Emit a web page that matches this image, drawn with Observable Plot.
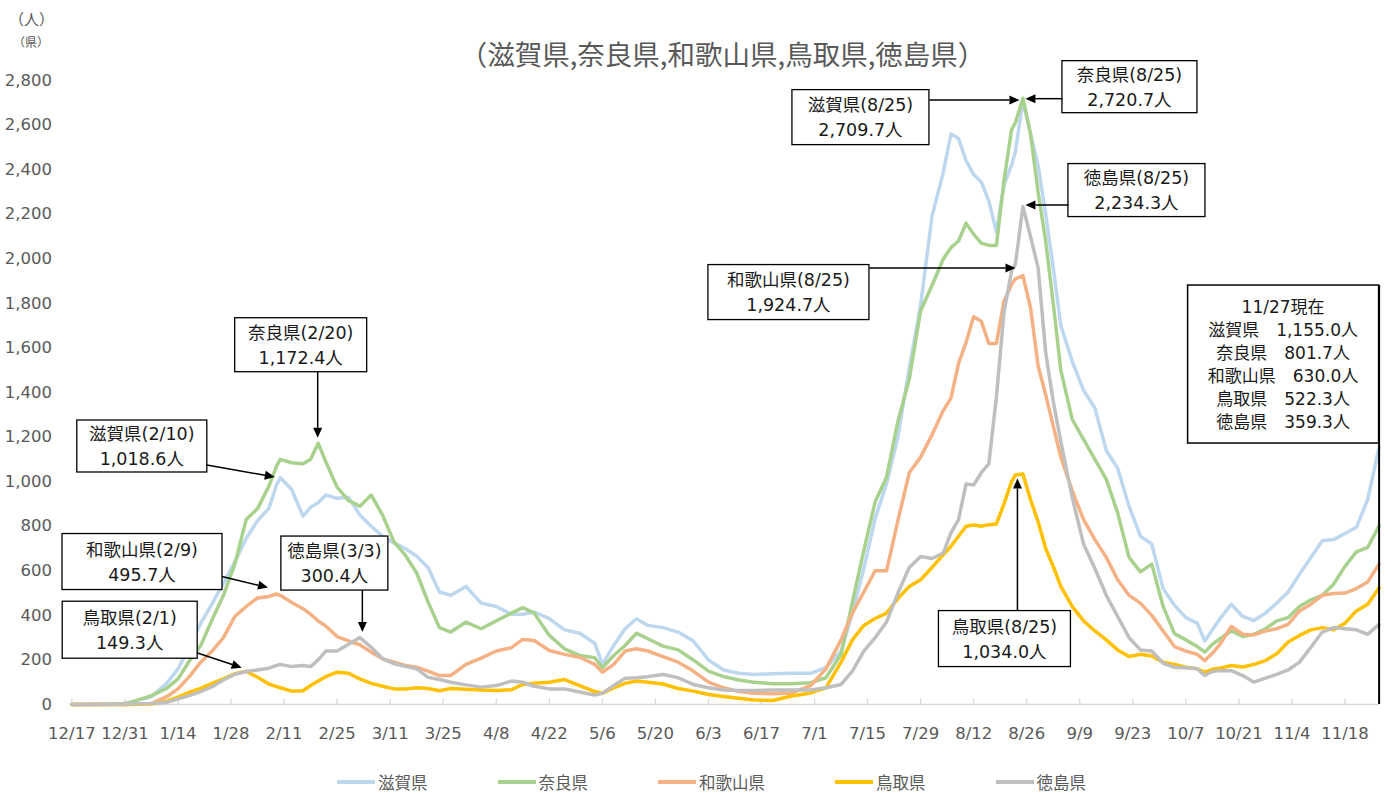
<!DOCTYPE html>
<html><head><meta charset="utf-8">
<script src="https://cdn.jsdelivr.net/npm/d3@7"></script>
<script src="https://cdn.jsdelivr.net/npm/@observablehq/plot@0.6"></script>
<style>
body{margin:0;background:#fff;}
#wrap{position:relative;width:1395px;height:794px;font-family:"DejaVu Sans","Noto Sans CJK JP",sans-serif;color:#595959;overflow:hidden;}
#chart{position:absolute;left:0;top:0;}
.abs{position:absolute;white-space:nowrap;}
#title{left:0;width:1445px;top:33px;text-align:center;font-size:27.5px;font-family:"Noto Sans CJK JP",sans-serif;}
#u1{left:9px;top:8px;font-size:15px;font-family:"Noto Sans CJK JP",sans-serif;}
#u2{left:13px;top:33px;font-size:12px;font-family:"Noto Sans CJK JP",sans-serif;}
#legend{left:337px;top:770px;display:flex;gap:70px;align-items:center;font-size:16.5px;font-family:"Noto Sans CJK JP",sans-serif;}
.li{display:flex;align-items:center;gap:3px;}
.sw{width:38px;height:4px;}
</style></head><body>
<div id="wrap">
  <div id="chart"></div>
  <div class="abs" id="u1">（人）</div>
  <div class="abs" id="u2">（県）</div>
  <div class="abs" id="title">（滋賀県,奈良県,和歌山県,鳥取県,徳島県）</div>
  <div class="abs" id="legend"></div>
</div>
<script>
// ---- data ----
const dates = ["2020-12-17","2020-12-24","2020-12-31","2021-01-07","2021-01-11","2021-01-14","2021-01-17","2021-01-20","2021-01-23","2021-01-26","2021-01-29","2021-02-01","2021-02-04","2021-02-07","2021-02-09","2021-02-10","2021-02-13","2021-02-16","2021-02-18","2021-02-20","2021-02-22","2021-02-25","2021-02-28","2021-03-03","2021-03-06","2021-03-09","2021-03-12","2021-03-15","2021-03-18","2021-03-21","2021-03-24","2021-03-27","2021-03-31","2021-04-04","2021-04-08","2021-04-12","2021-04-15","2021-04-18","2021-04-22","2021-04-26","2021-04-30","2021-05-04","2021-05-06","2021-05-09","2021-05-12","2021-05-15","2021-05-18","2021-05-22","2021-05-26","2021-05-30","2021-06-03","2021-06-07","2021-06-11","2021-06-15","2021-06-20","2021-06-25","2021-06-30","2021-07-04","2021-07-08","2021-07-11","2021-07-14","2021-07-17","2021-07-20","2021-07-23","2021-07-26","2021-07-29","2021-08-01","2021-08-04","2021-08-06","2021-08-08","2021-08-10","2021-08-12","2021-08-14","2021-08-16","2021-08-18","2021-08-20","2021-08-22","2021-08-23","2021-08-25","2021-08-27","2021-08-29","2021-08-31","2021-09-02","2021-09-04","2021-09-07","2021-09-10","2021-09-13","2021-09-16","2021-09-19","2021-09-22","2021-09-25","2021-09-28","2021-10-01","2021-10-04","2021-10-07","2021-10-10","2021-10-12","2021-10-14","2021-10-16","2021-10-19","2021-10-22","2021-10-25","2021-10-28","2021-10-31","2021-11-03","2021-11-06","2021-11-09","2021-11-12","2021-11-15","2021-11-18","2021-11-21","2021-11-24","2021-11-27"];

const shiga = [0,2,5,35,95,160,257,365,452,545,640,745,825,880,985,1018.6,965,845,885,905,940,925,930,850,800,755,725,700,665,615,505,490,530,455,440,405,405,415,385,335,320,275,180,265,340,385,355,345,325,285,200,155,140,135,138,140,140,165,240,410,610,835,990,1200,1510,1794,2190,2390,2560,2540,2440,2378,2345,2260,2120,2330,2420,2480,2709.7,2560,2420,2200,1960,1700,1540,1410,1330,1140,1060,890,755,720,520,445,390,365,285,335,385,450,395,377,410,455,505,585,660,735,740,767,795,920,1155.0];

const nara = [0,0,2,40,72,115,195,265,380,490,630,830,879,980,1070,1100,1085,1080,1100,1172.4,1090,975,915,890,940,850,730,670,590,460,345,325,370,340,375,410,435,410,310,250,220,210,165,220,265,320,295,262,245,200,150,125,110,100,93,93,98,120,225,460,690,910,1020,1270,1460,1767,1880,2000,2050,2080,2160,2110,2070,2060,2060,2350,2580,2610,2720.7,2560,2300,2080,1800,1500,1280,1190,1100,1010,860,660,595,630,440,318,290,260,235,270,295,330,305,315,340,375,390,440,470,490,540,620,685,705,801.7];

const wakayama = [0,0,0,5,35,70,125,190,240,300,395,440,478,485,495.7,490,458,430,405,375,352,305,285,268,235,205,190,175,167,150,130,130,180,208,240,255,292,287,242,225,212,180,145,180,240,250,240,215,190,150,100,75,58,50,48,52,85,160,290,410,505,600,600,825,1040,1110,1210,1320,1375,1530,1625,1740,1720,1620,1620,1810,1885,1910,1924.7,1780,1520,1390,1250,1110,960,830,740,660,560,490,455,400,330,260,240,225,197,230,270,350,315,312,330,340,360,420,450,490,498,500,520,550,630.0];

const tottori = [0,0,0,2,15,33,55,72,95,115,138,149.3,122,92,80,75,60,62,85,105,125,145,140,115,95,82,70,70,75,72,62,72,68,65,63,66,90,95,100,112,85,58,50,75,95,105,100,92,72,60,45,36,28,20,18,38,52,75,190,290,355,386,410,475,530,560,615,673,710,755,800,805,800,807,810,900,1000,1030,1034.0,920,820,700,620,530,440,375,330,290,245,215,225,218,190,180,167,160,145,158,163,175,168,180,197,228,280,310,335,345,335,365,420,450,522.3];

const tokushima = [0,0,2,5,10,25,40,58,80,110,135,148,155,163,175,180,170,175,170,200,240,240,270,300.4,257,205,183,172,160,122,112,100,88,78,85,105,100,82,70,70,56,43,50,85,118,120,125,135,120,90,75,65,63,63,65,65,65,75,90,150,240,300,370,500,615,664,655,680,770,830,990,985,1040,1080,1380,1760,1945,1975,2234.3,2100,1960,1580,1360,1180,930,720,610,490,395,300,245,240,185,167,165,160,130,148,152,152,130,100,118,135,155,190,257,325,345,340,335,315,359.3];

const seriesNames = ["滋賀県","奈良県","和歌山県","鳥取県","徳島県"];
const seriesValues = [shiga, nara, wakayama, tottori, tokushima];
const seriesColors = ["#BDD7EE","#A9D18E","#F4B183","#FFC000","#BFBFBF"];

const xTickLabels = ["2020-12-17","2020-12-31","2021-01-14","2021-01-28","2021-02-11","2021-02-25","2021-03-11","2021-03-25","2021-04-08","2021-04-22","2021-05-06","2021-05-20","2021-06-03","2021-06-17","2021-07-01","2021-07-15","2021-07-29","2021-08-12","2021-08-26","2021-09-09","2021-09-23","2021-10-07","2021-10-21","2021-11-04","2021-11-18"];
const yTicks = [0,200,400,600,800,1000,1200,1400,1600,1800,2000,2200,2400,2600,2800];

// peak callouts: series, date (value read from the series)
const peakNotes = [
  {series:"奈良県", date:"2021-02-20", box:[-17,-98], size:[132,54], from:[0,-71], to:[0,-5]},
  {series:"滋賀県", date:"2021-02-10", box:[-138,-31], size:[130,52], from:[-73,-12], to:[-5,0]},
  {series:"和歌山県", date:"2021-02-09", box:[-134,-32], size:[160,56], from:[-54,-17], to:[-8,-6]},
  {series:"徳島県", date:"2021-03-03", box:[-25,-74], size:[107,54], from:[3,-47], to:[3,-5]},
  {series:"鳥取県", date:"2021-02-01", box:[-116,-41], size:[135,57], from:[-49,-18], to:[-4,-3]},
  {series:"滋賀県", date:"2021-08-25", box:[-162,17], size:[137,55], from:[-93,0], to:[-3,0]},
  {series:"奈良県", date:"2021-08-25", box:[107,-11], size:[135,52], from:[40,1], to:[3,1]},
  {series:"徳島県", date:"2021-08-25", box:[114,-16], size:[137,53], from:[46,-1], to:[3,-1]},
  {series:"和歌山県", date:"2021-08-25", box:[-234,17], size:[161,55], from:[-153,-7], to:[-7,-7]},
  {series:"鳥取県", date:"2021-08-25", box:[-18,165], size:[132,56], from:[-5,137], to:[-5,5]}
];
const latestBoxTop = 1880, latestBoxBottom = 1171;

// ---- build table ----
const parse = s => new Date(s + "T00:00:00Z");
const table = [];
seriesNames.forEach((name, i) => {
  seriesValues[i].forEach((v, j) => table.push({series: name, date: parse(dates[j]), value: v}));
});
const lastDate = parse(dates[dates.length - 1]);
const fmtNum = d3.format(",.1f");
const fmtMD = d3.utcFormat("%-m/%-d");
const valueOf = (series, date) => seriesValues[seriesNames.indexOf(series)][dates.indexOf(date)];

const FONT = '"DejaVu Sans","Noto Sans CJK JP",sans-serif';

function callouts(index, scales) {
  const g = d3.create("svg:g").attr("font-family", FONT).attr("font-size", 17.5).attr("fill", "#1a1a1a");
  const arrow = (x1, y1, x2, y2) => {
    const a = Math.atan2(y2 - y1, x2 - x1), L = 10, W = 4.5;
    const bx = x2 - L * Math.cos(a), by = y2 - L * Math.sin(a);
    g.append("line").attr("x1", x1).attr("y1", y1).attr("x2", bx).attr("y2", by)
      .attr("stroke", "#000").attr("stroke-width", 1.5);
    g.append("path").attr("d", `M${x2},${y2}L${bx - W*Math.sin(a)},${by + W*Math.cos(a)}L${bx + W*Math.sin(a)},${by - W*Math.cos(a)}Z`)
      .attr("fill", "#000");
  };
  for (const n of peakNotes) {
    const v = valueOf(n.series, n.date);
    const tx = scales.x(parse(n.date)), ty = scales.y(v);
    const cx = tx + n.box[0], cy = ty + n.box[1];
    g.append("rect").attr("x", cx - n.size[0]/2).attr("y", cy - n.size[1]/2)
      .attr("width", n.size[0]).attr("height", n.size[1])
      .attr("fill", "#fff").attr("stroke", "#000").attr("stroke-width", 1.3);
    const md = fmtMD(parse(n.date));
    const lines = [`${n.series}(${md})`, `${fmtNum(v)}人`];
    lines.forEach((t, k) => g.append("text").attr("x", cx).attr("y", cy + (k === 0 ? -12 : 13))
      .attr("text-anchor", "middle").attr("dominant-baseline", "central").text(t));
    arrow(tx + n.from[0], ty + n.from[1], tx + n.to[0], ty + n.to[1]);
  }
  // latest values box
  const right = scales.x(lastDate), top = scales.y(latestBoxTop), bottom = scales.y(latestBoxBottom);
  const w = 191;
  g.append("rect").attr("x", right - w).attr("y", top).attr("width", w).attr("height", bottom - top)
    .attr("fill", "#fff").attr("stroke", "#000").attr("stroke-width", 1.5);
  const cxl = right - w/2;
  const latest = [`${fmtMD(lastDate)}現在`].concat(seriesNames.map((s, i) => `${s}\u3000${fmtNum(seriesValues[i][seriesValues[i].length - 1])}人`));
  latest.forEach((t, k) => g.append("text").attr("x", cxl).attr("y", top + 22 + k * 23)
    .attr("text-anchor", "middle").attr("dominant-baseline", "central").attr("font-size", 17).text(t));
  return g.node();
}

const chart = Plot.plot({
  width: 1395,
  height: 765,
  marginLeft: 71.4,
  marginRight: 16.4,
  marginTop: 80,
  marginBottom: 61,
  style: {fontFamily: FONT, color: "#595959", background: "#fff"},
  x: {type: "utc", domain: [parse(dates[0]), lastDate]},
  y: {domain: [0, 2800]},
  color: {domain: seriesNames, range: seriesColors},
  marks: [
    Plot.ruleY([0], {stroke: "#d9d9d9", strokeWidth: 1.5}),
    Plot.ruleX(xTickLabels.map(parse), {y1: 0, y2: 24, stroke: "#d9d9d9", strokeWidth: 1.3}),
    Plot.axisX(xTickLabels.map(parse), {tickFormat: fmtMD, tickSize: 0, tickPadding: 23, fontSize: 16.5, fill: "#595959", label: null}),
    Plot.axisY(yTicks, {tickFormat: d3.format(","), tickSize: 0, tickPadding: 20, fontSize: 16.5, fill: "#595959", label: null}),
    Plot.line(table, {x: "date", y: "value", z: "series", stroke: "series", strokeWidth: 3.5, strokeLinejoin: "round"}),
    Plot.ruleX([lastDate], {y1: 0, y2: latestBoxTop, stroke: "#000", strokeWidth: 2}),
    callouts
  ]
});
document.getElementById("chart").appendChild(chart);

// legend
const lg = document.getElementById("legend");
seriesNames.forEach((s, i) => {
  const it = document.createElement("div"); it.className = "li";
  const sw = document.createElement("div"); sw.className = "sw"; sw.style.background = seriesColors[i];
  const tx = document.createElement("span"); tx.textContent = s;
  it.appendChild(sw); it.appendChild(tx); lg.appendChild(it);
});
</script>
</body></html>
